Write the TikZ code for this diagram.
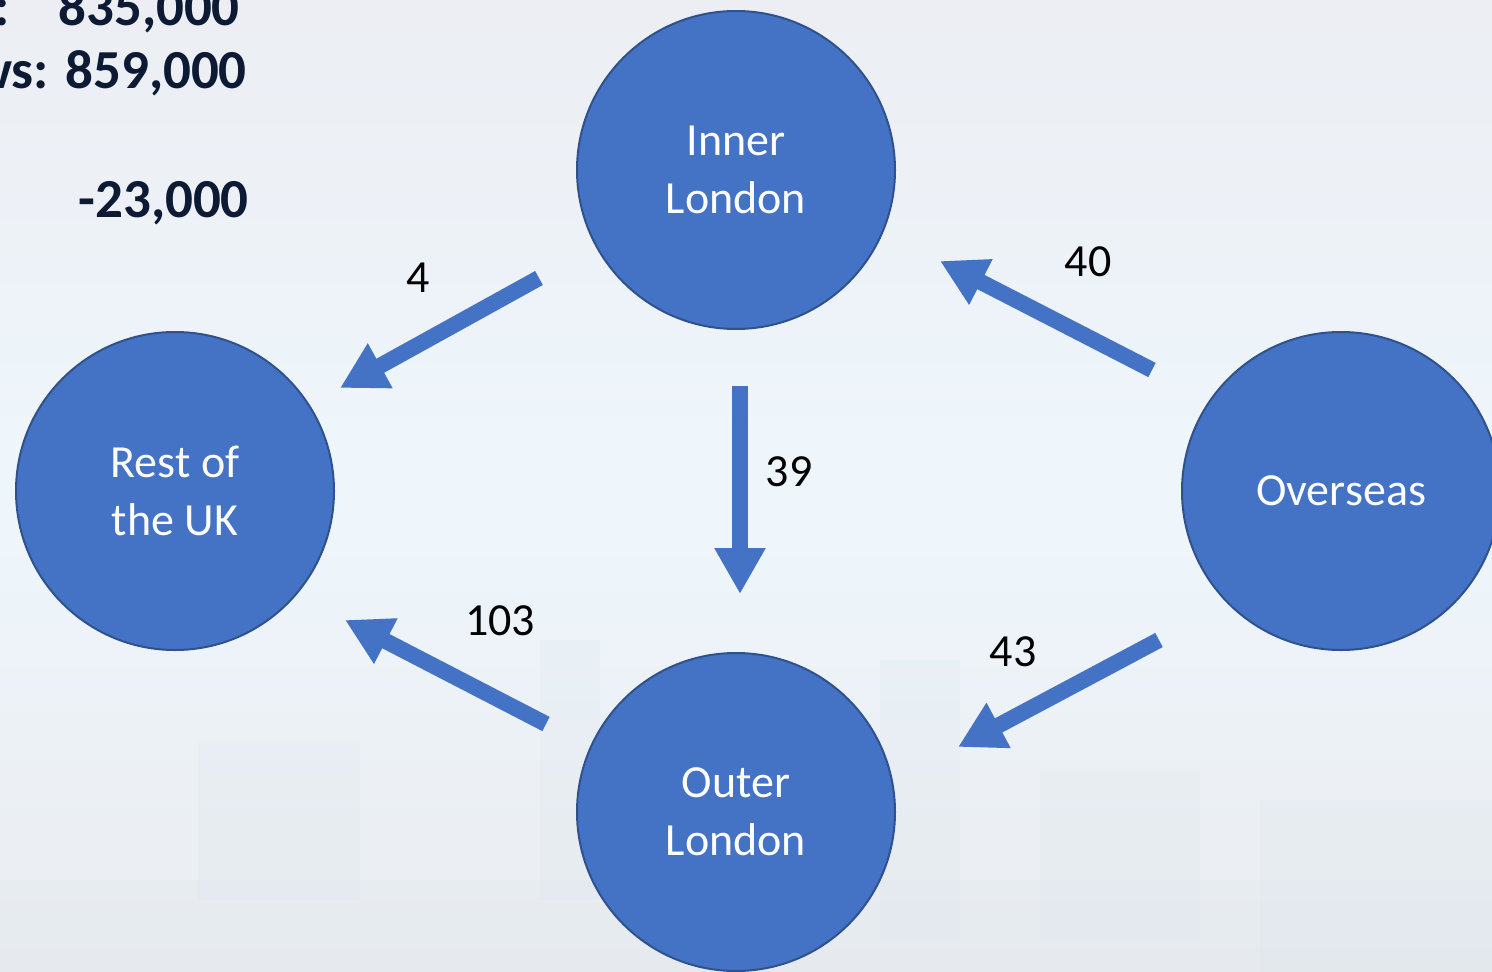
\documentclass[tikz,border=0pt]{standalone}
\usepackage{fontspec}
\setmainfont{Carlito}
\usetikzlibrary{arrows.meta}
\definecolor{nodeblue}{HTML}{4472C4}
\definecolor{nodeedge}{HTML}{2F528F}
\definecolor{navy}{HTML}{0C1A33}
\definecolor{bgtop}{HTML}{ECEEF3}
\definecolor{bgmid}{HTML}{EEF6FC}
\definecolor{bgbot}{HTML}{EAECEF}
\definecolor{sky}{HTML}{D9E3EC}
\tikzset{
  region/.style={circle, fill=nodeblue, draw=nodeedge, line width=2pt,
    minimum size=318pt, inner sep=0pt, align=center, text=white,
    font=\fontsize{46}{58}\selectfont},
  flow/.style={draw=nodeblue, line width=16pt,
    -{Triangle[width=48pt,length=46pt]}},
  flowlabel/.style={text=black, font=\fontsize{46}{50}\selectfont, inner sep=0pt},
  bigfig/.style={text=navy, font=\bfseries\fontsize{55}{60}\selectfont, inner sep=0pt, anchor=base east},
  building/.style={fill=sky, opacity=0.18, draw=none}
}
\begin{document}
\begin{tikzpicture}[x=1pt,y=-1pt]
\useasboundingbox (0,0) rectangle (1492,972);
\clip (0,0) rectangle (1492,972);
% background
\shade[top color=bgtop, bottom color=bgmid] (0,0) rectangle (1492,500);
\shade[top color=bgmid, bottom color=bgbot] (0,500) rectangle (1492,972);
% faint skyline
\fill[building] (198,742) rectangle (360,900);
\fill[building] (540,640) rectangle (600,900);
\fill[building] (880,660) rectangle (960,940);
\fill[building] (1040,770) rectangle (1200,940);
\fill[building] (1260,800) rectangle (1492,972);
\fill[building] (0,880) rectangle (1492,972);

% top-left figures
\node[bigfig] (c1) at (10,25) {:};
\node[bigfig] (f1) at (240,25) {835,000};
\node[bigfig] (f2) at (247,88) {ws: 859,000};
\node[bigfig] (f3) at (249,217) {-23,000};

% regions
\node[region] (inner) at (736,170) {Inner\\London};
\node[region] (rest) at (175,491) {Rest of\\the UK};
\node[region] (over) at (1341,491) {Overseas};
\node[region] (outer) at (736,812) {Outer\\London};

% arrow end points
\coordinate (a1s) at (539,278); \coordinate (a1e) at (340,388);
\coordinate (a2s) at (740,386); \coordinate (a2e) at (740,594);
\coordinate (a3s) at (1152,370); \coordinate (a3e) at (940,261);
\coordinate (a4s) at (1159,640); \coordinate (a4e) at (958,747);
\coordinate (a5s) at (546,724); \coordinate (a5e) at (345,620);

\draw[flow] (a1s) -- (a1e);
\draw[flow] (a2s) -- (a2e);
\draw[flow] (a3s) -- (a3e);
\draw[flow] (a4s) -- (a4e);
\draw[flow] (a5s) -- (a5e);

% labels
\node[flowlabel] (l1) at (418,278) {4};
\node[flowlabel] (l2) at (789,472) {39};
\node[flowlabel] (l3) at (1088,262) {40};
\node[flowlabel] (l4) at (1013,652) {43};
\node[flowlabel] (l5) at (500,621) {103};
\end{tikzpicture}
\end{document}
